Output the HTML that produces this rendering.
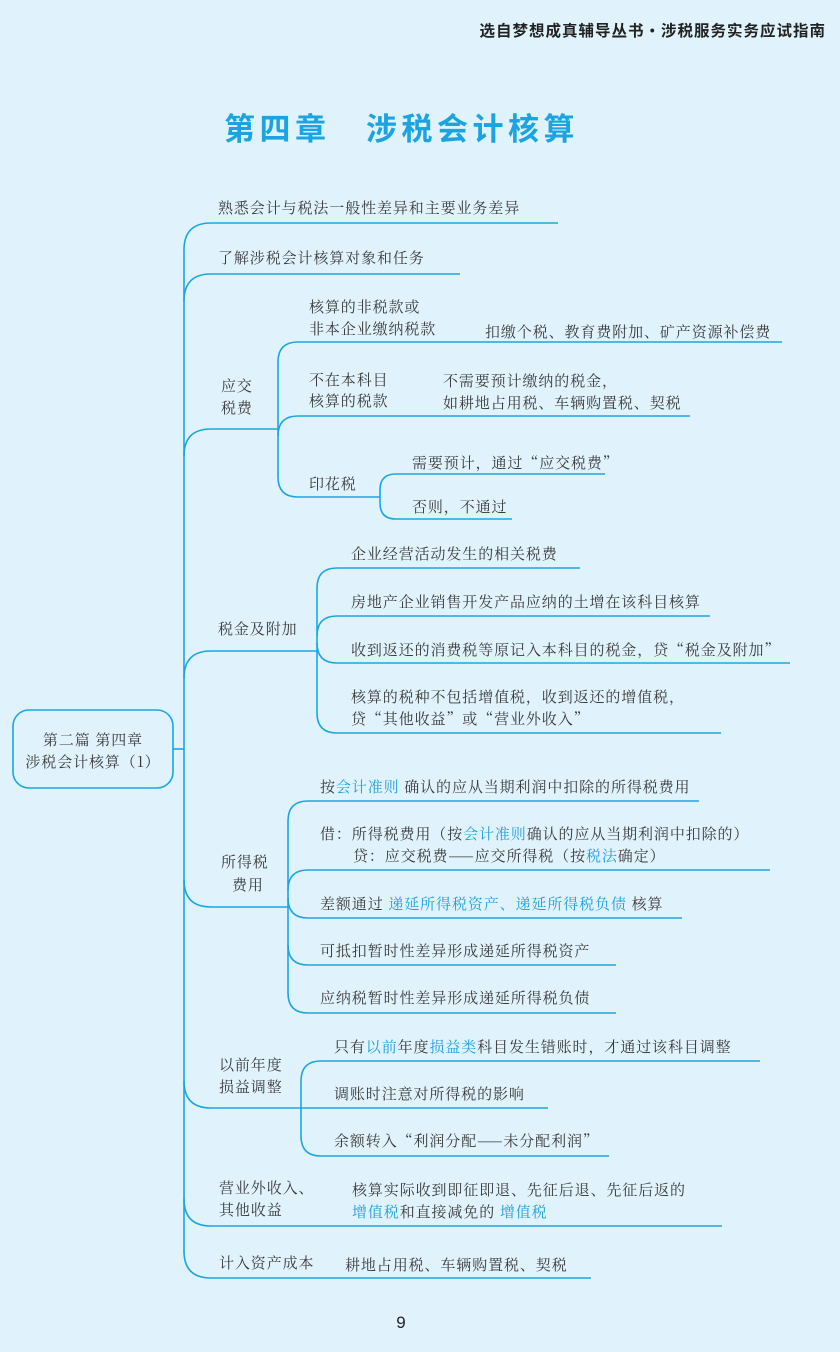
<!DOCTYPE html>
<html><head><meta charset="utf-8">
<style>
html,body{margin:0;padding:0;background:#e0f3fc;}
svg{display:block;}
.t{font-family:"Noto Serif CJK SC",serif;font-size:15px;fill:#3a3a3a;letter-spacing:0.9px;}
.b{fill:#1ea0dc;}
</style></head>
<body>
<svg width="840" height="1352" viewBox="0 0 840 1352" xmlns="http://www.w3.org/2000/svg">
<rect width="840" height="1352" fill="#e0f3fc"/>
<text x="826" y="36" text-anchor="end" style="font-family:'Noto Sans CJK SC',sans-serif;font-size:15.5px;font-weight:bold;fill:#222;letter-spacing:1px;">选自梦想成真辅导丛书·涉税服务实务应试指南</text>
<text x="224" y="140" style="font-family:'Noto Sans CJK SC',sans-serif;font-size:31px;font-weight:bold;fill:#1ba4e0;letter-spacing:4.5px;">第四章　涉税会计核算</text>

<g fill="none" stroke="#1aa6e0" stroke-width="1.6">
<rect x="13" y="710" width="160" height="78" rx="16"/>
<line x1="173" y1="749" x2="184" y2="749"/>
<line x1="184" y1="250" x2="184" y2="1252"/>
<path d="M184,250 Q184,223 211,223 L558,223"/>
<path d="M184,301 Q184,274 211,274 L460,274"/>
<path d="M184,456 Q184,429 211,429 L278,429"/>
<path d="M184,678 Q184,651 211,651 L317,651"/>
<path d="M184,880 Q184,907 211,907 L288,907"/>
<path d="M184,1081 Q184,1108 211,1108 L548,1108"/>
<path d="M184,1199 Q184,1226 211,1226 L722,1226"/>
<path d="M184,1251 Q184,1278 211,1278 L591,1278"/>

<path d="M278,362 Q278,342 298,342 L782,342"/>
<line x1="278" y1="362" x2="278" y2="477"/>
<path d="M278,436 Q278,416 298,416 L690,416"/>
<path d="M278,477 Q278,497 298,497 L380,497"/>
<path d="M380,490 Q380,474 396,474 L605,474"/>
<line x1="380" y1="490" x2="380" y2="503"/>
<path d="M380,503 Q380,519 396,519 L512,519"/>

<path d="M317,588 Q317,568 337,568 L580,568"/>
<line x1="317" y1="588" x2="317" y2="713"/>
<path d="M317,636 Q317,616 337,616 L710,616"/>
<path d="M317,643 Q317,663 337,663 L790,663"/>
<path d="M317,713 Q317,733 337,733 L721,733"/>

<path d="M288,821 Q288,801 308,801 L699,801"/>
<line x1="288" y1="821" x2="288" y2="993"/>
<path d="M288,890 Q288,870 308,870 L770,870"/>
<path d="M288,898 Q288,918 308,918 L682,918"/>
<path d="M288,945 Q288,965 308,965 L616,965"/>
<path d="M288,993 Q288,1013 308,1013 L616,1013"/>

<path d="M301,1081 Q301,1061 321,1061 L760,1061"/>
<line x1="301" y1="1081" x2="301" y2="1136"/>
<path d="M301,1136 Q301,1156 321,1156 L609,1156"/>
</g>

<text class="t" x="93" y="745" text-anchor="middle">第二篇  第四章</text>
<text class="t" x="93" y="767" text-anchor="middle">涉税会计核算（1）</text>

<text class="t" x="218" y="213">熟悉会计与税法一般性差异和主要业务差异</text>
<text class="t" x="218" y="263">了解涉税会计核算对象和任务</text>

<text class="t" x="221" y="391">应交</text>
<text class="t" x="221" y="413">税费</text>
<text class="t" x="309" y="312">核算的非税款或</text>
<text class="t" x="309" y="334">非本企业缴纳税款</text>
<text class="t" x="485" y="337">扣缴个税、教育费附加、矿产资源补偿费</text>
<text class="t" x="309" y="385">不在本科目</text>
<text class="t" x="309" y="406">核算的税款</text>
<text class="t" x="443" y="386">不需要预计缴纳的税金，</text>
<text class="t" x="443" y="408">如耕地占用税、车辆购置税、契税</text>
<text class="t" x="412" y="468">需要预计，通过“应交税费”</text>
<text class="t" x="309" y="489">印花税</text>
<text class="t" x="412" y="512">否则，不通过</text>

<text class="t" x="218" y="634">税金及附加</text>
<text class="t" x="351" y="559">企业经营活动发生的相关税费</text>
<text class="t" x="351" y="607">房地产企业销售开发产品应纳的土增在该科目核算</text>
<text class="t" x="351" y="655">收到返还的消费税等原记入本科目的税金，贷“税金及附加”</text>
<text class="t" x="351" y="702">核算的税种不包括增值税，收到返还的增值税，</text>
<text class="t" x="351" y="724">贷“其他收益”或“营业外收入”</text>

<text class="t" x="221" y="867">所得税</text>
<text class="t" x="232" y="890">费用</text>
<text class="t" x="320" y="792">按<tspan class="b">会计准则</tspan> 确认的应从当期利润中扣除的所得税费用</text>
<text class="t" x="320" y="839">借：所得税费用（按<tspan class="b">会计准则</tspan>确认的应从当期利润中扣除的）</text>
<text class="t" x="353" y="861">贷：应交税费——应交所得税（按<tspan class="b">税法</tspan>确定）</text>
<text class="t" x="320" y="909">差额通过 <tspan class="b">递延所得税资产、递延所得税负债</tspan> 核算</text>
<text class="t" x="320" y="956">可抵扣暂时性差异形成递延所得税资产</text>
<text class="t" x="320" y="1003">应纳税暂时性差异形成递延所得税负债</text>

<text class="t" x="219" y="1070">以前年度</text>
<text class="t" x="219" y="1092">损益调整</text>
<text class="t" x="334" y="1052">只有<tspan class="b">以前</tspan>年度<tspan class="b">损益类</tspan>科目发生错账时，才通过该科目调整</text>
<text class="t" x="334" y="1099">调账时注意对所得税的影响</text>
<text class="t" x="334" y="1146">余额转入“利润分配——未分配利润”</text>

<text class="t" x="219" y="1193">营业外收入、</text>
<text class="t" x="219" y="1215">其他收益</text>
<text class="t" x="352" y="1195">核算实际收到即征即退、先征后退、先征后返的</text>
<text class="t" x="352" y="1217"><tspan class="b">增值税</tspan>和直接减免的 <tspan class="b">增值税</tspan></text>

<text class="t" x="219" y="1268">计入资产成本</text>
<text class="t" x="345" y="1270">耕地占用税、车辆购置税、契税</text>

<text x="401" y="1328" text-anchor="middle" style="font-family:'Liberation Sans',sans-serif;font-size:17px;fill:#222;">9</text>
</svg>
</body></html>
